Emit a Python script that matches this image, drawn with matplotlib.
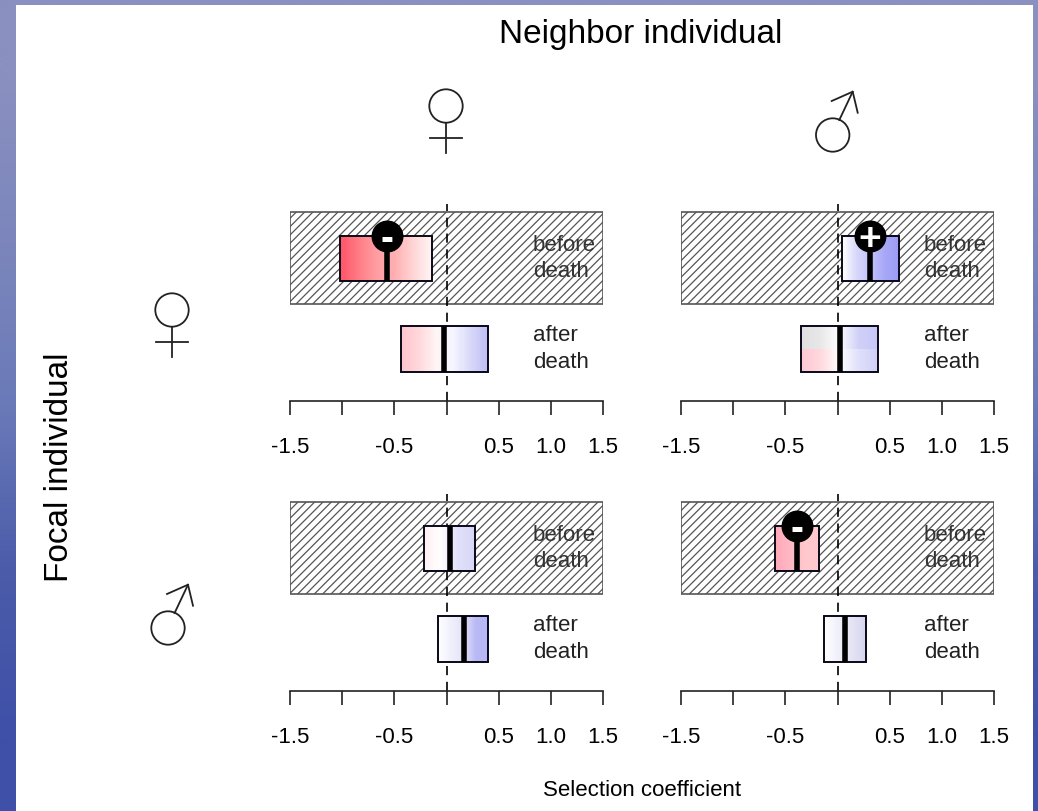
"""Selection coefficients by focal and neighbor sex, before and after death."""
import matplotlib as mpl
mpl.use("Agg")
import matplotlib.pyplot as plt
import numpy as np
from matplotlib.colors import to_rgb
from matplotlib.patches import Circle, Rectangle

mpl.rcParams.update({
    "font.family": ["Liberation Sans", "DejaVu Sans"],
    "hatch.linewidth": 0.9,
})

W, H = 1038, 811

# panels in reading order: FF, FM, MF, MM (focal, neighbor)
before_low = [-1.016, 0.045, -0.211, -0.601]
before_med = [-0.575, 0.313, 0.032, -0.387]
before_high = [-0.137, 0.588, 0.275, -0.173]
after_low = [-0.440, -0.348, -0.083, -0.128]
after_med = [-0.020, 0.022, 0.166, 0.070]
after_high = [0.396, 0.390, 0.400, 0.275]
before_sign = ["-", "+", None, "-"]

tick_values = [-1.5, -1.0, -0.5, 0.0, 0.5, 1.0, 1.5]
tick_labels = ["-1.5", "", "-0.5", "", "0.5", "1.0", "1.5"]

before_colors = [
    [["#ff5468", "#ff7d85", "#ff9ea4", "#ffb0b2", "#ffd5d5", "#fff5f5"]],
    [["#ffffff", "#d8d8fb", "#c4c4fa", "#a8a8f8", "#9c9cf5"]],
    [["#fff0f4", "#ffffff", "#e0e0fa", "#d8d8f8"]],
    [["#ffa8b8", "#ffb8c4", "#ffc8cc", "#ffc8d0"]],
]
after_colors = [
    [["#ffc4cc", "#ffd8dc", "#fff5f5", "#f5f5ff", "#d8d8f8", "#bdbdf5"]],
    [["#e0e0e0", "#e8e8e8", "#ffffff", "#d0d0f8", "#c8c8f8"],
     ["#ffc8d2", "#ffd8de", "#ffffff", "#e0e0fb", "#d0d0f8"]],
    [["#ffffff", "#f0f0fc", "#e4e4f8", "#b8b8f5", "#b8b8f5"]],
    [["#ffffff", "#f0f0fa", "#e4e4f4", "#d4d4f2"]],
]
background_colors = ["#8a90c0", "#7c86bc", "#6a7ab8", "#4c5caa", "#3f50a8"]


def px_axes(fig, x0, y0, x1, y1, **kw):
    return fig.add_axes([x0 / W, 1 - y1 / H, (x1 - x0) / W, (y1 - y0) / H], **kw)


def gradient_box(ax, low, high, y, rows):
    arr = []
    for row in rows:
        rgb = np.array([to_rgb(c) for c in row])
        pos = np.linspace(0, 1, len(row))
        t = np.linspace(0, 1, 80)
        arr.append(np.column_stack([np.interp(t, pos, rgb[:, k]) for k in range(3)]))
    ax.imshow(np.array(arr), extent=(low, high, y - 0.25, y + 0.25), aspect="auto",
              interpolation="nearest", zorder=4)
    ax.add_patch(Rectangle((low, y - 0.25), high - low, 0.5, fill=False,
                           edgecolor="#080818", linewidth=1.4, zorder=5))


def female_symbol(ax, x, y):
    """x, y is the centre of the ring, in pixels."""
    ax.add_patch(Circle((x, y), 16.7, fill=False, edgecolor="#222222", linewidth=1.3))
    ax.plot([x, x], [y + 16.7, y + 47], color="#222222", linewidth=1.3)
    ax.plot([x - 16, x + 16], [y + 32, y + 32], color="#222222", linewidth=1.3)


def male_symbol(ax, x, y):
    ax.add_patch(Circle((x, y), 16.7, fill=False, edgecolor="#222222", linewidth=1.3))
    ax.plot([x + 6.6, x + 20], [y - 15, y - 43.3], color="#222222", linewidth=1.3)
    ax.plot([x - 1, x + 20, x + 25], [y - 34, y - 43.3, y - 22.3], color="#222222",
            linewidth=1.3)


fig = plt.figure(figsize=(W / 100, H / 100), dpi=100)

# slide background and white page
bg = px_axes(fig, 0, 0, W, H)
bg.imshow(np.array([[to_rgb(c)] for c in background_colors]),
          extent=(0, W, H, 0), aspect="auto", interpolation="bilinear")
bg.add_patch(Rectangle((16, 5), 1017, 806, facecolor="white", edgecolor="none"))
female_symbol(bg, 446, 106)
male_symbol(bg, 832.7, 135)
female_symbol(bg, 172, 310)
male_symbol(bg, 168, 628)
bg.set_xlim(0, W); bg.set_ylim(H, 0)
bg.axis("off")

lefts = [290, 681, 290, 681]
bottoms = [401, 401, 691, 691]

for i in range(4):
    x0, y1 = lefts[i], bottoms[i]
    ax = px_axes(fig, x0, y1 - 201, x0 + 313, y1)
    ax.patch.set_visible(False)

    ax.add_patch(Rectangle((-1.5, 1 - 0.507), 3, 1.014, facecolor="white",
                           edgecolor="#555555", hatch="////", linewidth=1.2, zorder=1))
    ax.vlines(0, -0.573, 1.60, color="black", linewidth=1.2,
              linestyles=(0, (5.5, 4)), zorder=2)

    gradient_box(ax, before_low[i], before_high[i], 1, before_colors[i])
    gradient_box(ax, after_low[i], after_high[i], 0, after_colors[i])

    ax.vlines(before_med[i], 0.75, 1.25, color="black", linewidth=4, zorder=6)
    ax.vlines(after_med[i], -0.25, 0.25, color="black", linewidth=4, zorder=6)

    if before_sign[i]:
        ax.plot([before_med[i]], [1.25], "o", color="black", markersize=22,
                clip_on=False, zorder=7)
        ax.text(before_med[i], 1.25, before_sign[i], color="white", fontweight="bold",
                fontsize=28, ha="center", va="center_baseline", zorder=8)

    ax.text(0.826, 1, "before\ndeath", fontsize=16, color="#333333", ha="left",
            va="center", linespacing=1.32, zorder=3)
    ax.text(0.826, 0, "after\ndeath", fontsize=16, color="#222222", ha="left",
            va="center", linespacing=1.32, zorder=3)

    ax.set_xlim(-1.5, 1.5)
    ax.set_ylim(-0.573, 1.642)
    ax.set_xticks(tick_values)
    ax.set_xticklabels(tick_labels, fontsize=16)
    ax.set_yticks([])
    ax.tick_params(axis="x", length=10, width=1.2, pad=16, color="#222222")
    for side in ["top", "left", "right"]:
        ax.spines[side].set_visible(False)
    ax.spines["bottom"].set_linewidth(1.2)
    ax.spines["bottom"].set_color("#222222")

fig.text(641 / W, 1 - 34 / H, "Neighbor individual", fontsize=24, ha="center", va="center")
fig.text(60 / W, 1 - 467 / H, "Focal individual", fontsize=24, rotation=90,
         ha="center", va="center")
fig.text(642 / W, 1 - 790 / H, "Selection coefficient", fontsize=16, ha="center", va="center")

fig.savefig("out.png", dpi=100)
